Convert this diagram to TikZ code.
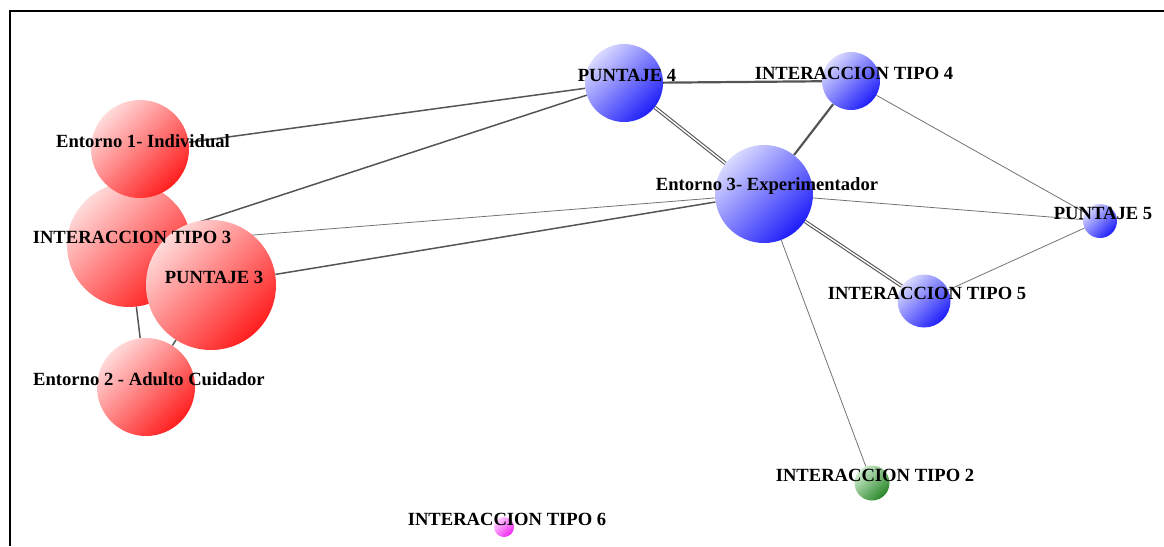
\documentclass[tikz,border=0pt]{standalone}
\usepackage{fontspec}
\setmainfont{Liberation Serif}
\usetikzlibrary{backgrounds}

\definecolor{redlo}{RGB}{255,30,30}
\definecolor{redhi}{RGB}{255,218,218}
\definecolor{bluelo}{RGB}{30,30,250}
\definecolor{bluehi}{RGB}{218,218,255}
\definecolor{greenlo}{RGB}{40,135,40}
\definecolor{greenhi}{RGB}{205,235,205}
\definecolor{pinklo}{RGB}{240,40,240}
\definecolor{pinkhi}{RGB}{255,205,255}
\definecolor{linkgray}{RGB}{85,85,85}

\tikzset{
  ball/.style={circle, inner sep=0pt, minimum size=#1},
  redball/.style={ball=#1, top color=redhi, bottom color=redlo, shading angle=45},
  blueball/.style={ball=#1, top color=bluehi, bottom color=bluelo, shading angle=45},
  greenball/.style={ball=#1, top color=greenhi, bottom color=greenlo, shading angle=45},
  pinkball/.style={ball=#1, top color=pinkhi, bottom color=pinklo, shading angle=45},
  lbl/.style={font=\fontsize{18.6}{20}\selectfont\bfseries, inner sep=0pt, xshift=3pt, yshift=8pt},
  thinlink/.style={draw=black!55, line width=0.8pt},
  midlink/.style={draw=linkgray, line width=1.5pt},
  thicklink/.style={draw=linkgray, line width=2.2pt},
  duallink/.style={draw=linkgray, line width=1.1pt, double=white, double distance=1.4pt},
}

\begin{document}
\begin{tikzpicture}[x=1pt, y=-1pt]
  \useasboundingbox (0,0) rectangle (1164,546);
  % frame
  \draw[line width=2pt] (10,546) -- (10,11) -- (1164,11);

  % circles
  \node[redball=124pt] (int3) at (129,245) {};
  \node[redball=98pt] (ent1) at (140,149) {};
  \node[redball=130pt] (pun3) at (211,285) {};
  \node[redball=98pt] (ent2) at (146,387) {};
  \node[blueball=78pt] (pun4) at (624,83) {};
  \node[blueball=58pt] (int4) at (851,81) {};
  \node[blueball=98pt] (ent3) at (764,194) {};
  \node[blueball=34pt] (pun5) at (1100,221) {};
  \node[blueball=53pt] (int5) at (924,301) {};
  \node[greenball=35pt] (int2) at (872,483) {};
  \node[pinkball=20pt] (int6) at (504,527) {};

  % links
  \begin{scope}[on background layer]
    \draw[midlink] (ent1) -- (pun4);
    \draw[midlink] (int3) -- (pun4);
    \draw[midlink] (pun3) -- (ent3);
    \draw[midlink] (int3) -- (ent2);
    \draw[midlink] (pun3) -- (ent2);
    \draw[thinlink] (int3) -- (ent3);
    \draw[thicklink] (pun4) -- (int4);
    \draw[thicklink] (int4) -- (ent3);
    \draw[duallink] (pun4) -- (ent3);
    \draw[duallink] (ent3) -- (int5);
    \draw[thinlink] (int4) -- (pun5);
    \draw[thinlink] (ent3) -- (pun5);
    \draw[thinlink] (int5) -- (pun5);
    \draw[thinlink] (ent3) -- (int2);
  \end{scope}

  % labels
  \node[lbl] (ent1-t) at (ent1) {Entorno 1- Individual};
  \node[lbl] (int3-t) at (int3) {INTERACCION TIPO 3};
  \node[lbl] (pun3-t) at (pun3) {PUNTAJE 3};
  \node[lbl] (ent2-t) at (ent2) {Entorno 2 - Adulto Cuidador};
  \node[lbl] (pun4-t) at (pun4) {PUNTAJE 4};
  \node[lbl] (int4-t) at (int4) {INTERACCION TIPO 4};
  \node[lbl] (ent3-t) at (ent3) {Entorno 3- Experimentador};
  \node[lbl] (pun5-t) at (pun5) {PUNTAJE 5};
  \node[lbl] (int5-t) at (int5) {INTERACCION TIPO 5};
  \node[lbl] (int2-t) at (int2) {INTERACCION TIPO 2};
  \node[lbl] (int6-t) at (int6) {INTERACCION TIPO 6};
\end{tikzpicture}
\end{document}
